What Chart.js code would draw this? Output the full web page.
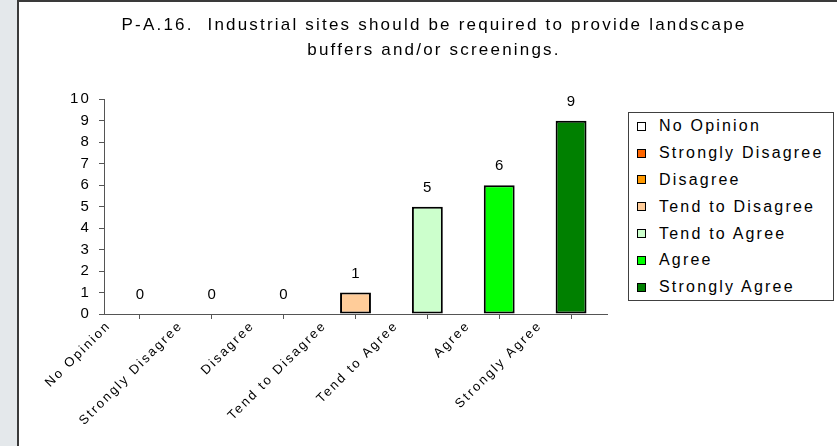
<!DOCTYPE html>
<html>
<head>
<meta charset="utf-8">
<script src="https://cdn.jsdelivr.net/npm/chart.js@4"></script>
<style>
  html, body { margin: 0; padding: 0; }
  body { width: 837px; height: 446px; overflow: hidden; background: #e4e8eb; position: relative; font-family: 'Liberation Sans', Arial, sans-serif; }
  .panel { position: absolute; left: 17px; top: 0; width: 840px; height: 460px; background: #fff; border-top: 2px solid #3a3a3a; border-left: 2px solid #3a3a3a; }
  #chart { position: absolute; left: 19px; top: 2px; }
  .legend { position: absolute; left: 628px; top: 112px; width: 204px; height: 187px; border: 1px solid #404040; background: #fff; }
  .legend-row { height: 26.8px; display: flex; align-items: center; font-size: 16px; letter-spacing: 2.2px; color: #000; white-space: nowrap; }
  .legend-box { width: 7px; height: 7px; border: 1px solid #000; margin: 0 13px 0 8px; flex: none; }
</style>
</head>
<body>
<div class="panel"></div>
<canvas id="chart" width="830" height="444"></canvas>
<div class="legend" id="legend"></div>
<script>
const titleLines = ['P-A.16.  Industrial sites should be required to provide landscape', 'buffers and/or screenings.'];
const categories = ['No Opinion', 'Strongly Disagree', 'Disagree', 'Tend to Disagree', 'Tend to Agree', 'Agree', 'Strongly Agree'];
const counts = [0, 0, 0, 1, 5, 6, 9];
const colors = ['#ffffff', '#ff6600', '#ff9900', '#ffcc99', '#ccffcc', '#00ff00', '#008000'];
const yTicks = [0, 1, 2, 3, 4, 5, 6, 7, 8, 9, 10];

const LETTER_SPACING = '2.2px';
const AXIS_COLOR = '#555';

Chart.defaults.font.family = "'Liberation Sans', Arial, sans-serif";
Chart.defaults.color = '#000';

// canvas text in the original is wide, so space it out a bit
const spacingPlugin = {
  id: 'spacing',
  beforeLayout(chart) { chart.ctx.letterSpacing = LETTER_SPACING; },
  beforeDraw(chart) { chart.ctx.letterSpacing = LETTER_SPACING; },
};

const valueLabels = {
  id: 'valueLabels',
  afterDatasetsDraw(chart) {
    const ctx = chart.ctx;
    const meta = chart.getDatasetMeta(0);
    ctx.save();
    ctx.font = "15px 'Liberation Sans', Arial, sans-serif";
    ctx.fillStyle = '#000';
    ctx.textAlign = 'center';
    ctx.textBaseline = 'middle';
    meta.data.forEach((bar, i) => {
      ctx.fillText(String(counts[i]), bar.x + 1, bar.y - 19);
    });
    ctx.restore();
  },
};

new Chart(document.getElementById('chart'), {
  type: 'bar',
  data: {
    labels: categories,
    datasets: [{
      data: counts,
      backgroundColor: colors,
      borderColor: '#000',
      borderWidth: c => (counts[c.dataIndex] === 0 ? 0 : 2),
      borderSkipped: false,
      barPercentage: 0.43,
      categoryPercentage: 1,
      xAxisID: 'x',
    }],
  },
  options: {
    responsive: false,
    animation: false,
    layout: { padding: { left: 0, right: 0, top: 0, bottom: 2 } },
    plugins: {
      legend: { display: false },
      tooltip: { enabled: false },
      title: {
        display: true,
        text: titleLines,
        font: { size: 17, weight: 'normal', lineHeight: 1.45 },
        color: '#000',
        padding: { top: 11, bottom: 37 },
      },
    },
    scales: {
      x: { display: false, offset: true },
      xl: {
        type: 'category',
        position: 'bottom',
        labels: [...categories, ''],
        offset: false,
        grid: { display: true, drawOnChartArea: false, drawTicks: true, tickLength: 5, color: AXIS_COLOR },
        border: { display: true, color: AXIS_COLOR, width: 1 },
        ticks: { autoSkip: false, minRotation: 45, maxRotation: 45, padding: -1, labelOffset: 5, font: { size: 13 }, color: '#000' },
        afterFit: s => { s.height = 130; },
      },
      y: {
        min: 0,
        max: 10,
        afterBuildTicks: s => { s.ticks = yTicks.map(v => ({ value: v })); },
        grid: { display: true, drawOnChartArea: false, drawTicks: true, tickLength: 5, color: AXIS_COLOR },
        border: { display: true, color: AXIS_COLOR, width: 1 },
        ticks: { padding: 8, font: { size: 15 }, color: '#000' },
        afterFit: s => { s.width = 85; },
      },
      // empty space on the right where the legend sits
      gap: {
        type: 'linear',
        position: 'right',
        grid: { display: false },
        border: { display: false },
        ticks: { display: false },
        afterFit: s => { s.width = 242; },
      },
    },
  },
  plugins: [spacingPlugin, valueLabels],
});

document.getElementById('legend').innerHTML = categories.map((c, i) =>
  `<div class="legend-row"><span class="legend-box" style="background:${colors[i]}"></span>${c}</div>`
).join('');
</script>
</body>
</html>
